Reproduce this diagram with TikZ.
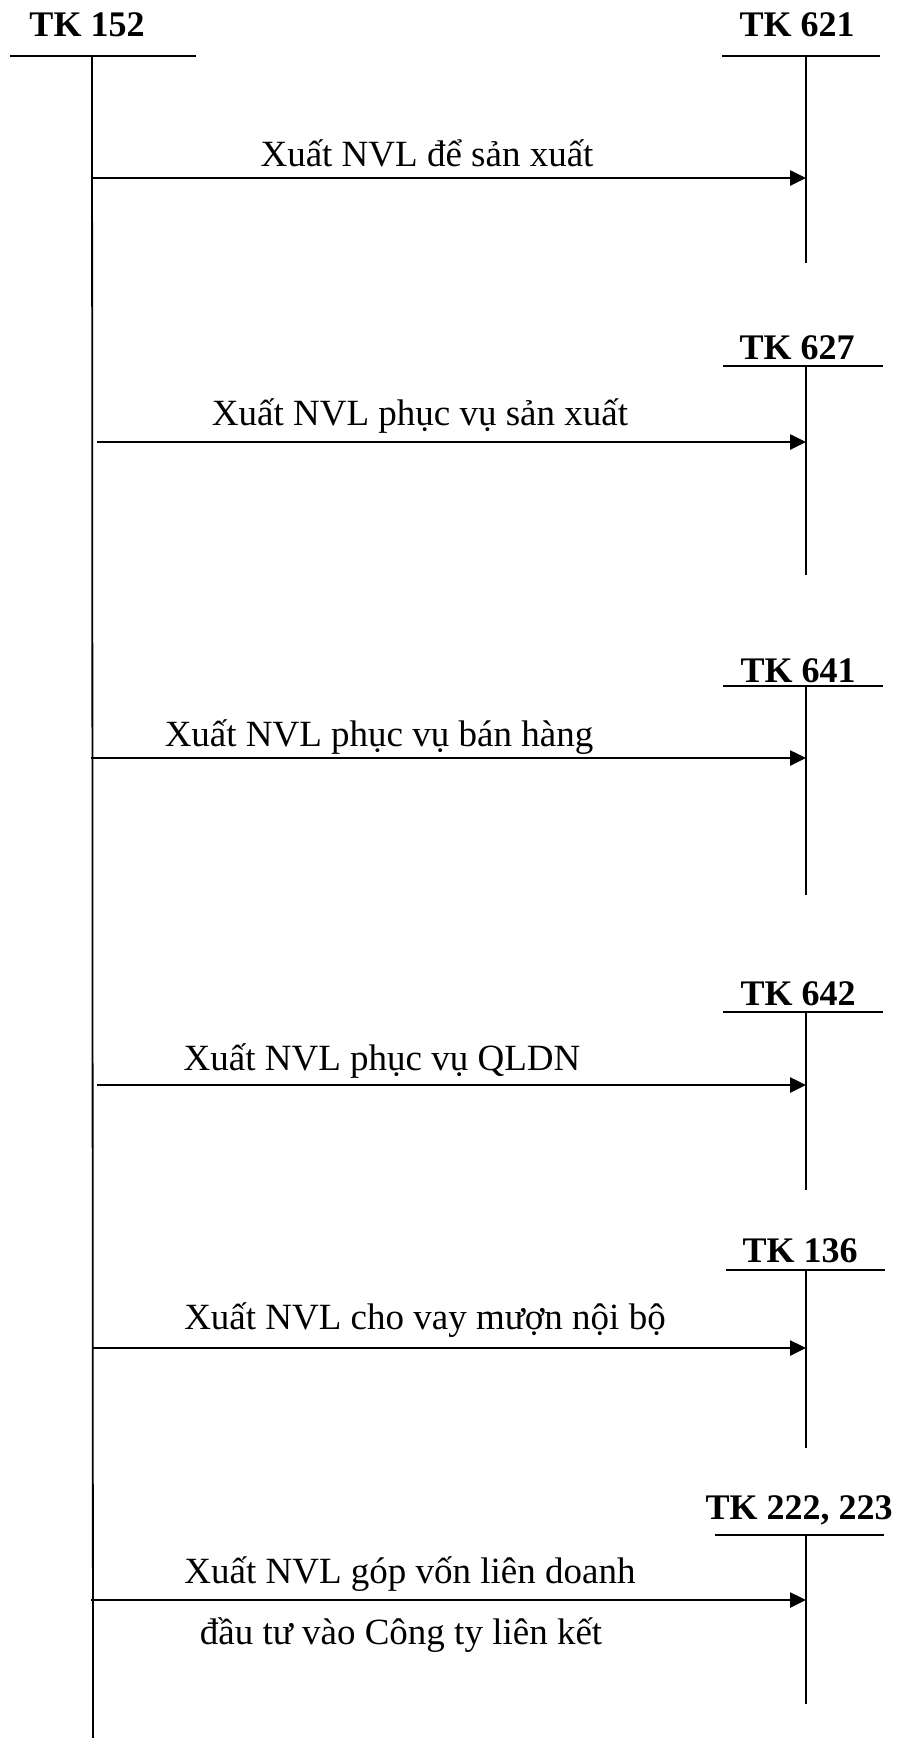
\documentclass[tikz,border=0pt]{standalone}
\usepackage{fontspec}
\setmainfont{Liberation Serif}
\usetikzlibrary{arrows.meta}
\begin{document}
\begin{tikzpicture}[x=1pt,y=-1pt,
  tline/.style={line width=1.8pt},
  flow/.style={line width=2.6pt,-{Triangle[length=16pt,width=15pt]}},
  head/.style={font=\fontsize{36}{40}\selectfont\bfseries,inner sep=0pt,anchor=base},
  lbl/.style={font=\fontsize{37}{42}\selectfont,inner sep=0pt,anchor=base}]
\useasboundingbox (0,0) rectangle (898,1738);
% left account
\node[head] (h152) at (87,36) {TK 152};
\coordinate (l152a) at (10,56); \coordinate (l152b) at (196,56);
\coordinate (v152t) at (92,56); \coordinate (v152b) at (93,1738);
\draw[tline] (l152a) -- (l152b);
\draw[tline] (v152t) -- (v152b);
% right accounts
\node[head] (h621) at (797,36) {TK 621};
\coordinate (a621) at (722,56); \coordinate (b621) at (880,56);
\coordinate (t621) at (806,56); \coordinate (e621) at (806,263);
\node[head] (h627) at (797,359) {TK 627};
\coordinate (a627) at (723,366); \coordinate (b627) at (883,366);
\coordinate (t627) at (806,366); \coordinate (e627) at (806,575);
\node[head] (h641) at (798,682) {TK 641};
\coordinate (a641) at (723,686); \coordinate (b641) at (883,686);
\coordinate (t641) at (806,686); \coordinate (e641) at (806,895);
\node[head] (h642) at (798,1005) {TK 642};
\coordinate (a642) at (723,1012); \coordinate (b642) at (883,1012);
\coordinate (t642) at (806,1012); \coordinate (e642) at (806,1190);
\node[head] (h136) at (800,1262) {TK 136};
\coordinate (a136) at (726,1270); \coordinate (b136) at (885,1270);
\coordinate (t136) at (806,1270); \coordinate (e136) at (806,1448);
\node[head] (h222) at (799,1519) {TK 222, 223};
\coordinate (a222) at (715,1535); \coordinate (b222) at (884,1535);
\coordinate (t222) at (806,1535); \coordinate (e222) at (806,1704);
\foreach \n in {621,627,641,642,136,222}{
  \draw[tline] (a\n) -- (b\n);
  \draw[tline] (t\n) -- (e\n);
}
% arrows
\coordinate (s1) at (92,178);  \coordinate (f1) at (806,178);
\coordinate (s2) at (97,442);  \coordinate (f2) at (806,442);
\coordinate (s3) at (91,758);  \coordinate (f3) at (806,758);
\coordinate (s4) at (97,1085); \coordinate (f4) at (806,1085);
\coordinate (s5) at (93,1348); \coordinate (f5) at (806,1348);
\coordinate (s6) at (91,1600); \coordinate (f6) at (806,1600);
\foreach \i in {1,...,6}{ \draw[flow] (s\i) -- (f\i); }
% labels
\node[lbl] (t1) at (427,166) {Xuất NVL để sản xuất};
\node[lbl] (t2) at (420,425) {Xuất NVL phục vụ sản xuất};
\node[lbl] (t3) at (379,746) {Xuất NVL phục vụ bán hàng};
\node[lbl] (t4) at (382,1070) {Xuất NVL phục vụ QLDN};
\node[lbl] (t5) at (425,1329) {Xuất NVL cho vay mượn nội bộ};
\node[lbl] (t6) at (410,1583) {Xuất NVL góp vốn liên doanh};
\node[lbl] (t7) at (401,1644) {đầu tư vào Công ty liên kết};
\end{tikzpicture}
\end{document}
